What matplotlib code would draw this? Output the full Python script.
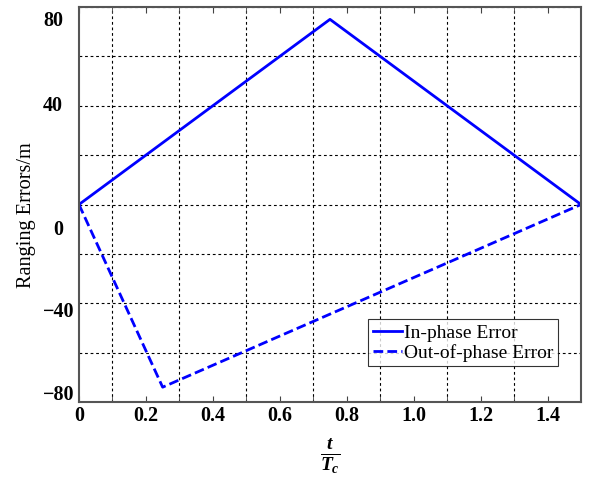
import numpy as np
import matplotlib
matplotlib.use("Agg")
import matplotlib.pyplot as plt

# dados (t/Tc, erro em metros)
t_in = [0.0, 0.75, 1.5]
erro_in = [0.0, 75.0, 0.0]
t_out = [0.0, 0.25, 1.5]
erro_out = [0.0, -74.0, 0.0]

xticks = [0, 0.2, 0.4, 0.6, 0.8, 1.0, 1.2, 1.4]
xlabels = ['0', '0.2', '0.4', '0.6', '0.8', '1.0', '1.2', '1.4']
# os rótulos do eixo y aparecem deslocados no original
ytick_pos = [75.5, 41.0, -9.3, -42.6, -76.3]
ylabels = ['80', '40', '0', '\u221240', '\u221280']

plt.rcParams['font.family'] = ['Liberation Serif', 'DejaVu Serif']
plt.rcParams['mathtext.fontset'] = 'custom'
plt.rcParams['mathtext.it'] = 'Liberation Serif:italic:bold'
plt.rcParams['mathtext.rm'] = 'Liberation Serif:bold'

fig = plt.figure(figsize=(5.92, 4.83), dpi=100)
ax = fig.add_axes([0.1334, 0.1677, 0.848, 0.8178])

ax.plot(t_in, erro_in, color='#0000ff', lw=2, label='In-phase Error')
ax.plot(t_out, erro_out, color='#0000ff', lw=2, ls=(0, (3.5, 1.5)),
        label='Out-of-phase Error')

ax.set_xlim(0, 1.5)
ax.set_ylim(-80, 80)

ax.set_xticks(xticks)
ax.set_xticklabels(xlabels, fontweight='bold', fontsize=14.5)
ax.set_xticks(np.arange(0, 1.51, 0.1), minor=True)
ax.set_yticks(np.arange(-80, 81, 20), minor=True)
ax.set_yticks([])

# rótulos do eixo y escritos à mão (os negativos ficam mais à direita)
for pos, txt in zip(ytick_pos, ylabels):
    xr = -0.0099 if txt.startswith('\u2212') else -0.0318
    ax.text(xr, pos, txt, transform=ax.get_yaxis_transform(), ha='right',
            va='center_baseline', fontweight='bold', fontsize=14.5)

ax.tick_params(axis='y', which='minor', length=0)
ax.tick_params(axis='x', which='both', direction='in', length=4, top=True,
               color='#444444', pad=3)

ax.grid(which='minor', color='black', ls=(0, (2.5, 2.5)), lw=0.8)

for s in ax.spines.values():
    s.set_color('#555555')
    s.set_linewidth(1.5)

ax.set_ylabel('Ranging Errors/m', fontsize=14.6)
ax.yaxis.set_label_coords(-0.085, 0.473)
ax.set_xlabel(r'$\frac{t}{T_c}$', fontsize=20, labelpad=8)

leg = ax.legend(loc='lower right', bbox_to_anchor=(0.955, 0.09), fontsize=14,
                frameon=True, fancybox=False, handlelength=1.5,
                handletextpad=0.1, borderpad=0.25, labelspacing=0.1,
                borderaxespad=0)
leg.get_frame().set_edgecolor('black')
leg.get_frame().set_linewidth(0.8)

fig.savefig('out.png', dpi=100)
